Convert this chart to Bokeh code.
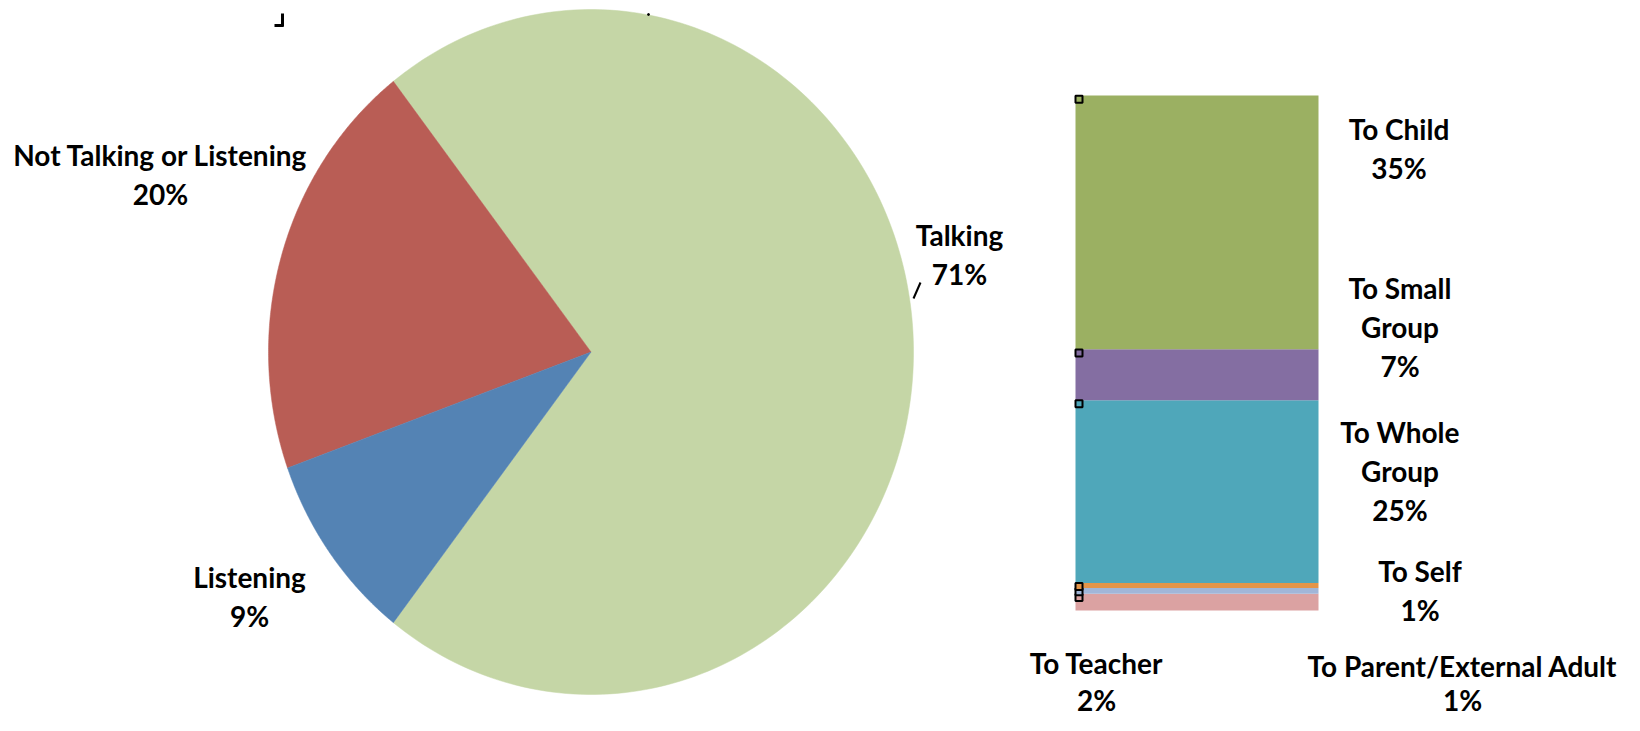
import numpy as np
from bokeh.plotting import figure
from bokeh.models import Range1d, ColumnDataSource
from bokeh.core.properties import value
from bokeh.embed import file_html
from bokeh.resources import INLINE

# ---------------- data ----------------
pie_categories = ["Talking", "Not Talking or Listening", "Listening"]
pie_values = [71.0, 20.0, 9.0]
pie_colors = ["#C5D6A6", "#B95D55", "#5483B4"]

bar_categories = ["To Teacher", "To Parent/External Adult", "To Self",
                  "To Whole Group", "To Small Group", "To Child"]
bar_values = [2.3, 0.8, 0.7, 25.2, 7.0, 35.0]
bar_colors = ["#DBA2A2", "#A1B6D8", "#E39549", "#4FA7BA", "#846EA2", "#9BB062"]

# ---------------- layout (picture pixel coordinates) ----------------
W, H = 1624, 715
CX, CY, RX, RY = 590.5, 351.5, 322.5, 342.5
BAR_LEFT, BAR_RIGHT = 1075, 1318
BAR_TOP_PX, BAR_BOTTOM_PX = 95, 610
LINE_GAP = 39

pie_label_pos = {"Talking": (959, 234),
                 "Not Talking or Listening": (160, 154),
                 "Listening": (249, 576)}
bar_label_pos = {"To Child": (1398.5, 128.5),
                 "To Small Group": (1399.5, 287.5),
                 "To Whole Group": (1399.5, 431),
                 "To Self": (1419.5, 570),
                 "To Teacher": (1096, 662),
                 "To Parent/External Adult": (1462, 665)}
gap_override = {"To Parent/External Adult": 34, "To Teacher": 37}
wrap = {"To Small Group": ["To Small", "Group"],
        "To Whole Group": ["To Whole", "Group"]}

p = figure(width=W, height=H, x_range=Range1d(0, W), y_range=Range1d(H, 0),
           output_backend="svg", toolbar_location=None, min_border=0,
           x_axis_type=None, y_axis_type=None)
p.grid.visible = False
p.outline_line_color = None
p.background_fill_color = "white"
p.border_fill_color = "white"

# ---------------- pie (stretched circle) ----------------
total = sum(pie_values)
fracs = np.array(pie_values) / total
start = -fracs[0] * np.pi  # first slice centred on the right
xs, ys = [], []
a0 = start
for f in fracs:
    a1 = a0 + f * 2 * np.pi
    t = np.linspace(a0, a1, 200)
    xs.append([CX] + list(CX + RX * np.cos(t)))
    ys.append([CY] + list(CY - RY * np.sin(t)))
    a0 = a1
p.patches(xs, ys, fill_color=pie_colors, line_color=pie_colors, line_width=0.5)

# ---------------- stacked bar ----------------
bar_total = sum(bar_values)
px_per_pct = (BAR_BOTTOM_PX - BAR_TOP_PX) / bar_total
pct_bottom = -(H - BAR_BOTTOM_PX) / px_per_pct
pct_top = bar_total + BAR_TOP_PX / px_per_pct
p.extra_y_ranges = {"pct": Range1d(start=pct_bottom, end=pct_top)}

bar_src = ColumnDataSource({"x": [(BAR_LEFT + BAR_RIGHT) / 2],
                            **{c: [v] for c, v in zip(bar_categories, bar_values)}})
p.vbar_stack(bar_categories, x="x", width=BAR_RIGHT - BAR_LEFT, color=bar_colors,
             source=bar_src, y_range_name="pct", line_color=None)

tops = np.cumsum(bar_values)
p.scatter(x=[BAR_LEFT + 3.5] * len(tops), y=list(tops - 0.5), marker="square", size=7,
          fill_color=bar_colors, line_color="black", line_width=2, y_range_name="pct")

# ---------------- labels ----------------
lx, ly, lt = [], [], []
for name, v in zip(pie_categories, pie_values):
    x0, y0 = pie_label_pos[name]
    lines = wrap.get(name, [name]) + [f"{round(v / total * 100):.0f}%"]
    for k, s in enumerate(lines):
        lx.append(x0); ly.append(y0 + k * gap_override.get(name, LINE_GAP)); lt.append(s)
for name, v in zip(bar_categories, bar_values):
    x0, y0 = bar_label_pos[name]
    lines = wrap.get(name, [name]) + [f"{round(v):.0f}%"]
    for k, s in enumerate(lines):
        lx.append(x0); ly.append(y0 + k * gap_override.get(name, LINE_GAP)); lt.append(s)
p.text(x=lx, y=ly, text=lt, text_font=value("Lato"), text_font_style="bold",
       text_font_size="28px", text_align="center", text_baseline="middle",
       text_color="black")

# ---------------- stray marks from the original ----------------
p.segment(x0=[913, 282, 274], y0=[298, 13, 25], x1=[920, 282, 283], y1=[282, 26, 25],
          line_color="black", line_width=[2, 3, 3])
p.scatter(x=[648], y=[14], size=2, color="black")

open("out.html", "w").write(file_html(p, INLINE))
